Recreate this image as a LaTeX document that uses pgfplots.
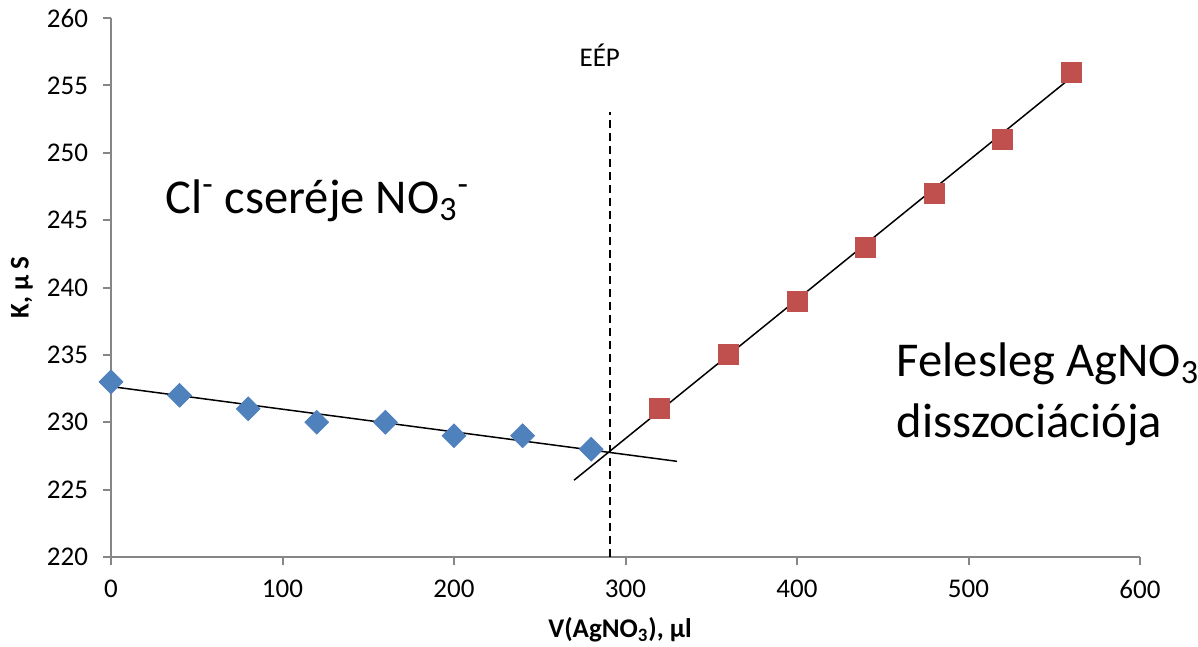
\documentclass[border=0pt]{standalone}
\usepackage{fontspec}
\setmainfont{Carlito}
\usepackage{pgfplots}
\pgfplotsset{compat=1.18}
\definecolor{xblue}{HTML}{4F81BD}
\definecolor{xred}{HTML}{C0504D}
\definecolor{axgray}{HTML}{868686}
\begin{document}
\begin{tikzpicture}
\begin{axis}[
  scale only axis,
  width=514.5pt, height=269.5pt,
  xmin=0, xmax=600, ymin=220, ymax=260,
  xtick={0,100,...,600}, ytick={220,225,...,260},
  axis lines*=left,
  axis line style={axgray, line width=1pt, -},
  tick style={axgray, line width=1pt},
  major tick length=4pt,
  tick align=outside,
  clip=false,
  /pgf/number format/assume math mode=true,
  /pgf/number format/set thousands separator={},
  ticklabel style={font=\fontsize{13.5}{15}\selectfont, text=black},
  xticklabel style={yshift=-4pt},
  yticklabel style={xshift=-4pt},
  xlabel={\textbf{V(AgNO\textsubscript{3}), µl}},
  ylabel={\textbf{K, µ S}},
  xlabel style={at={(axis description cs:0.4947,-0.135)}, anchor=center, font=\fontsize{13.5}{15}\selectfont},
  ylabel style={at={(axis description cs:-0.0865,0.5)}, anchor=center, font=\fontsize{13.5}{15}\selectfont},
]
\addplot[only marks, mark=square*, mark size=4.2pt, mark options={rotate=45, fill=xblue, draw=xblue}]
  coordinates {(0,233)(40,232)(80,231)(120,230)(160,230)(200,229)(240,229)(280,228)};
\addplot[only marks, mark=square*, mark size=5pt, mark options={fill=xred, draw=xred}]
  coordinates {(320,231)(360,235)(400,239)(440,243)(480,247)(520,251)(560,256)};
\addplot[black, line width=0.75pt, no marks] coordinates {(0,232.65)(330,227.1)};
\addplot[black, line width=0.75pt, no marks] coordinates {(270,225.7)(561,255.7)};
\addplot[black, line width=1.2pt, dash pattern=on 4pt off 2.5pt, no marks] coordinates {(291,220)(291,253)};
\node[anchor=base, font=\fontsize{13.5}{15}\selectfont] at (axis cs:285,256.4) {EÉP};
\node[anchor=base west, inner sep=0pt, font=\fontsize{24.3}{28}\selectfont] at (axis cs:31.5,245.5) {Cl\textsuperscript{-} cseréje NO\textsubscript{3}\textsuperscript{-}};
\node[anchor=base west, inner sep=0pt, font=\fontsize{24.3}{28}\selectfont] at (axis cs:458,233.4) {Felesleg AgNO\textsubscript{3}};
\node[anchor=base west, inner sep=0pt, font=\fontsize{24.3}{28}\selectfont] at (axis cs:458,228.9) {disszociációja};
\end{axis}
\pgfresetboundingbox
\path ([xshift=-55.5pt,yshift=-45pt]current axis.south west) rectangle ([xshift=29pt,yshift=9pt]current axis.north east);
\end{tikzpicture}
\end{document}
